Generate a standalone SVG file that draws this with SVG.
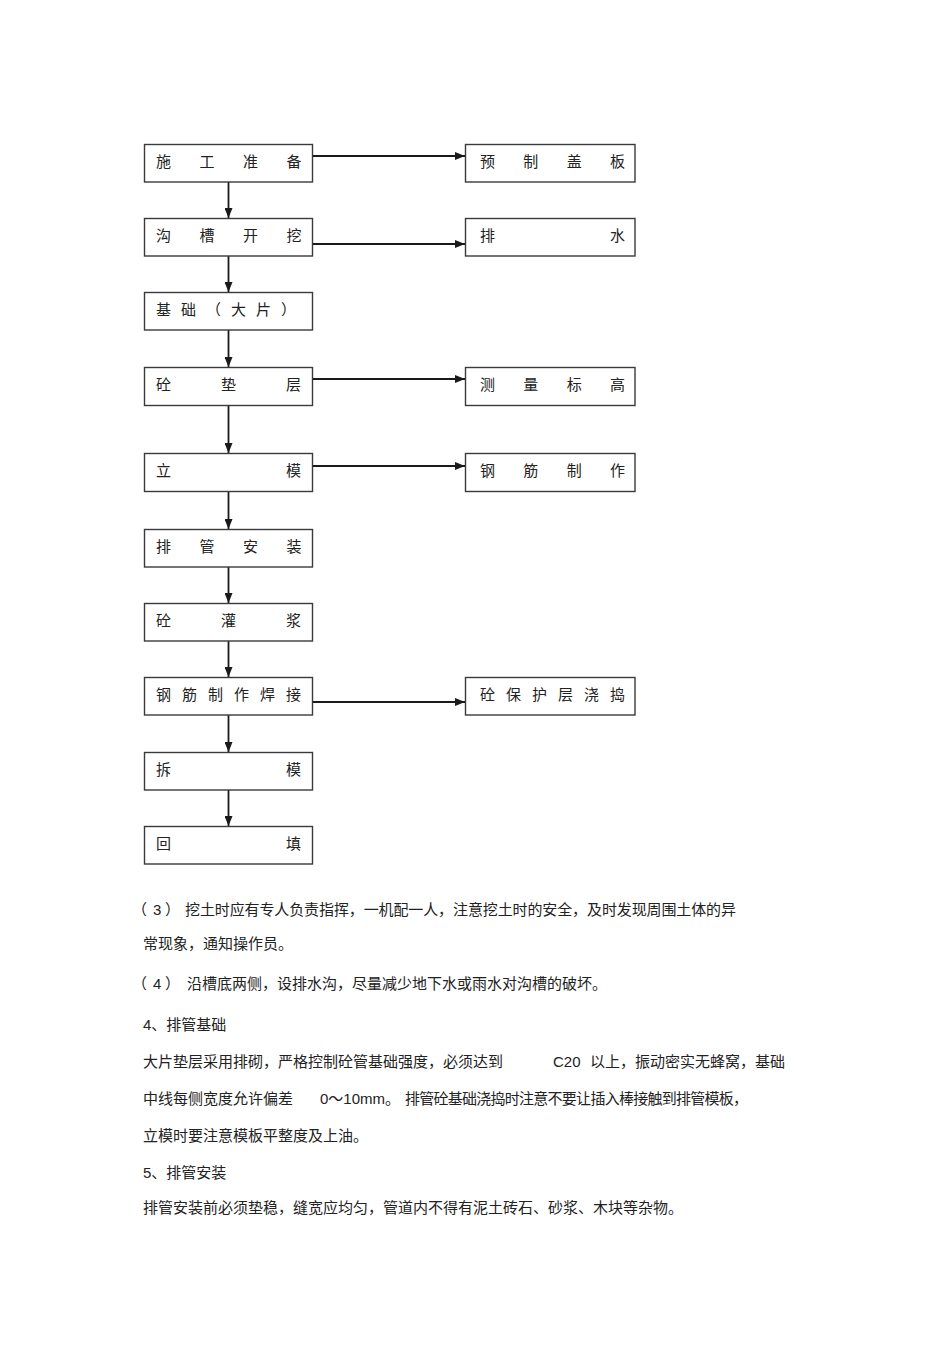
<svg xmlns="http://www.w3.org/2000/svg" width="950" height="1345" viewBox="0 0 950 1345">
  <defs>
    <marker id="arrow" markerUnits="userSpaceOnUse" markerWidth="10" markerHeight="8" refX="10" refY="4" orient="auto">
      <path d="M0,0 L10,4 L0,8 Z" fill="#1a1a1a"/>
    </marker>
    <style>
      .box { fill: #ffffff; stroke: #3a3a3a; stroke-width: 1.4; }
      .lbl { font-family: "Noto Sans CJK SC", sans-serif; font-size: 15px; fill: #222222; }
      .body { font-family: "Liberation Sans", "Noto Sans CJK SC", sans-serif; font-size: 15px; fill: #222222; }
      .conn { stroke: #1a1a1a; stroke-width: 1.8; fill: none; marker-end: url(#arrow); }
    </style>
  </defs>
  <rect width="950" height="1345" fill="#ffffff"/>

  <!-- connectors -->
  <g id="connectors">
    <line class="conn" x1="228.5" y1="182" x2="228.5" y2="218"/>
    <line class="conn" x1="228.5" y1="256" x2="228.5" y2="292"/>
    <line class="conn" x1="228.5" y1="330" x2="228.5" y2="367"/>
    <line class="conn" x1="228.5" y1="406" x2="228.5" y2="453"/>
    <line class="conn" x1="228.5" y1="491" x2="228.5" y2="529"/>
    <line class="conn" x1="228.5" y1="567" x2="228.5" y2="603"/>
    <line class="conn" x1="228.5" y1="641" x2="228.5" y2="677"/>
    <line class="conn" x1="228.5" y1="715" x2="228.5" y2="752"/>
    <line class="conn" x1="228.5" y1="790" x2="228.5" y2="826"/>
    <line class="conn" x1="313" y1="156" x2="465" y2="156"/>
    <line class="conn" x1="313" y1="244" x2="465" y2="244"/>
    <line class="conn" x1="313" y1="379" x2="465" y2="379"/>
    <line class="conn" x1="313" y1="466" x2="465" y2="466"/>
    <line class="conn" x1="313" y1="702" x2="465" y2="702"/>
  </g>

  <!-- main sequence -->
  <g id="n-prepare">
    <rect class="box" x="144.5" y="144.5" width="168" height="37.5"/>
    <text class="lbl" x="156 199.5 243 286.5" y="167">施工准备</text>
  </g>
  <g id="n-trench">
    <rect class="box" x="144.5" y="218.5" width="168" height="37.5"/>
    <text class="lbl" x="156 199.5 243 286.5" y="241">沟槽开挖</text>
  </g>
  <g id="n-base">
    <rect class="box" x="144.5" y="292.5" width="168" height="37.5"/>
    <text class="lbl" x="156 181 206 231 256 281" y="315">基础（大片）</text>
  </g>
  <g id="n-cushion">
    <rect class="box" x="144.5" y="367.5" width="168" height="38"/>
    <text class="lbl" x="156 221 286" y="390">砼垫层</text>
  </g>
  <g id="n-formwork">
    <rect class="box" x="144.5" y="453.5" width="168" height="38"/>
    <text class="lbl" x="156 286" y="476">立模</text>
  </g>
  <g id="n-pipe">
    <rect class="box" x="144.5" y="529.5" width="168" height="37.5"/>
    <text class="lbl" x="156 199.5 243 286.5" y="552">排管安装</text>
  </g>
  <g id="n-grout">
    <rect class="box" x="144.5" y="603.5" width="168" height="37.5"/>
    <text class="lbl" x="156 221 286" y="626">砼灌浆</text>
  </g>
  <g id="n-rebar-weld">
    <rect class="box" x="144.5" y="677.5" width="168" height="37.5"/>
    <text class="lbl" x="156 182 208 234 260 286" y="700">钢筋制作焊接</text>
  </g>
  <g id="n-strip">
    <rect class="box" x="144.5" y="752.5" width="168" height="37.5"/>
    <text class="lbl" x="156 286" y="775">拆模</text>
  </g>
  <g id="n-backfill">
    <rect class="box" x="144.5" y="826.5" width="168" height="37.5"/>
    <text class="lbl" x="156 286" y="849">回填</text>
  </g>

  <!-- side tasks -->
  <g id="n-cover">
    <rect class="box" x="465.5" y="144.5" width="169.5" height="37.5"/>
    <text class="lbl" x="480 523.3 566.7 610" y="167">预制盖板</text>
  </g>
  <g id="n-drain">
    <rect class="box" x="465.5" y="218.5" width="169.5" height="37.5"/>
    <text class="lbl" x="480 610" y="241">排水</text>
  </g>
  <g id="n-survey">
    <rect class="box" x="465.5" y="367.5" width="169.5" height="38"/>
    <text class="lbl" x="480 523.3 566.7 610" y="390">测量标高</text>
  </g>
  <g id="n-rebar">
    <rect class="box" x="465.5" y="453.5" width="169.5" height="38"/>
    <text class="lbl" x="480 523.3 566.7 610" y="476">钢筋制作</text>
  </g>
  <g id="n-protect">
    <rect class="box" x="465.5" y="677.5" width="169.5" height="37.5"/>
    <text class="lbl" x="480 506 532 558 584 610" y="700">砼保护层浇捣</text>
  </g>

  <!-- notes below the chart -->
  <g id="notes" class="body">
    <text y="915"><tspan x="132">（</tspan><tspan x="153">3</tspan><tspan x="165">）</tspan><tspan x="185" textLength="551" lengthAdjust="spacing">挖土时应有专人负责指挥，一机配一人，注意挖土时的安全，及时发现周围土体的异</tspan></text>
    <text x="143" y="949">常现象，通知操作员。</text>
    <text y="989"><tspan x="132">（</tspan><tspan x="153">4</tspan><tspan x="165">）</tspan><tspan x="187">沿槽底两侧，设排水沟，尽量减少地下水或雨水对沟槽的破坏。</tspan></text>
    <text x="143" y="1030">4、排管基础</text>
    <text y="1067"><tspan x="143">大片垫层采用排砌，严格控制砼管基础强度，必须达到</tspan><tspan x="553">C20</tspan><tspan x="590">以上，振动密实无蜂窝，基础</tspan></text>
    <text y="1104"><tspan x="143">中线每侧宽度允许偏差</tspan><tspan x="320">0～10mm。</tspan><tspan x="405" textLength="343" lengthAdjust="spacing">排管砼基础浇捣时注意不要让插入棒接触到排管模板，</tspan></text>
    <text x="143" y="1141">立模时要注意模板平整度及上油。</text>
    <text x="143" y="1178">5、排管安装</text>
    <text x="143" y="1213">排管安装前必须垫稳，缝宽应均匀，管道内不得有泥土砖石、砂浆、木块等杂物。</text>
  </g>
</svg>
